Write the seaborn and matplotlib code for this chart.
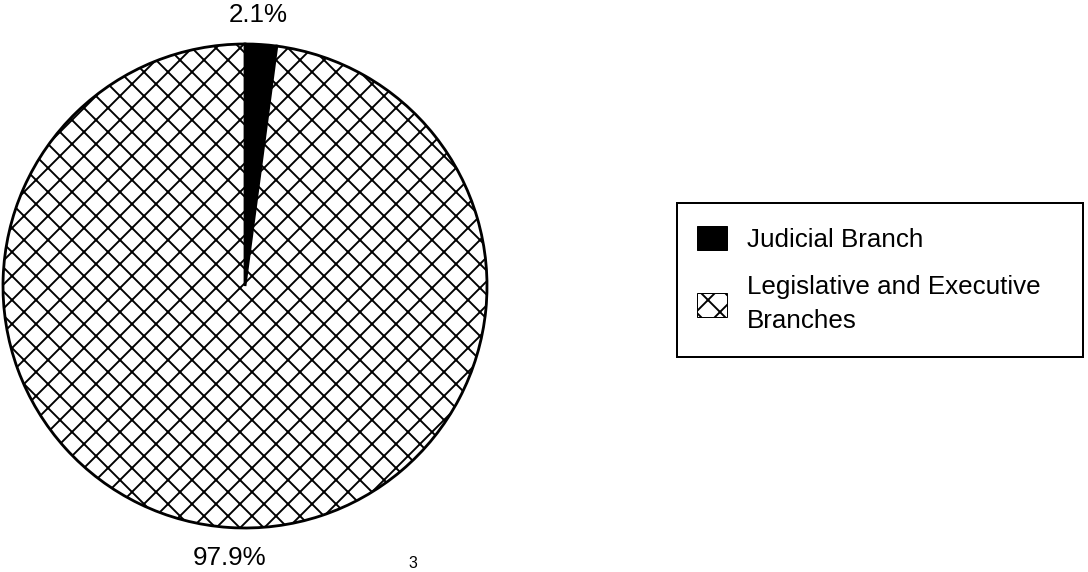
import matplotlib
matplotlib.use("Agg")
import matplotlib.pyplot as plt
import seaborn as sns
from matplotlib.patches import Patch, Rectangle

# ---- data ----
categories = ["Judicial Branch", "Legislative and Executive\nBranches"]
shares = [2.1, 97.9]
pct_labels = [f"{v}%" for v in shares]
page_number = "3"

sns.set_theme(style="white")
plt.rcParams["font.family"] = ["Liberation Sans", "DejaVu Sans"]
plt.rcParams["text.color"] = "black"
plt.rcParams["hatch.linewidth"] = 1.9

DPI = 72
W, H = 1088, 572
fig = plt.figure(figsize=(W / DPI, H / DPI), dpi=DPI)
fig.patch.set_facecolor("white")

cx, cy, r = 245, 286, 242
ax = fig.add_axes([(cx - r) / W, (H - cy - r) / H, 2 * r / W, 2 * r / H])
wedges, _ = ax.pie(
    shares,
    startangle=90,
    counterclock=False,
    colors=["black", "white"],
    radius=1,
    wedgeprops=dict(edgecolor="black", linewidth=2.8),
)
wedges[1].set_hatch("x")
for w in wedges:
    w.set_clip_on(False)
ax.set_xlim(-1, 1)
ax.set_ylim(-1, 1)
ax.set_axis_off()

ax.text(0.054, 1.12, pct_labels[0], ha="center", va="center", fontsize=26,
        color="black", clip_on=False)
ax.text(-0.062, -1.124, pct_labels[1], ha="center", va="center", fontsize=26,
        color="black", clip_on=False)

# legend frame
fig.add_artist(Rectangle((677 / W, (H - 357) / H), 406 / W, 154 / H,
                         transform=fig.transFigure, facecolor="white",
                         edgecolor="black", linewidth=2, zorder=1))

handles = [
    Patch(facecolor="black", edgecolor="black"),
    Patch(facecolor="white", edgecolor="black", hatch="x"),
]
leg = fig.legend(
    handles,
    categories,
    loc="upper left",
    bbox_to_anchor=(697 / W, 1 - 226 / H),
    bbox_transform=fig.transFigure,
    borderaxespad=0,
    borderpad=0,
    fontsize=26,
    handlelength=1.15,
    handleheight=1.05,
    handletextpad=0.77,
    labelspacing=0.88,
    frameon=False,
)
leg.set_zorder(2)
for t in leg.get_texts():
    t.set_linespacing(1.55)
    t.set_color("black")

fig.text(413 / W, 1 - 571 / H, page_number, fontsize=16, va="bottom", ha="center",
         color="black")

fig.savefig("out.png", dpi=DPI)
